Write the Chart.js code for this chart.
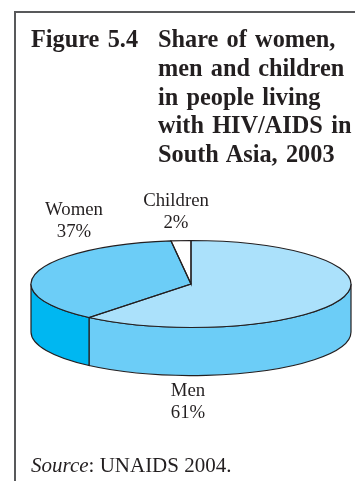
<!DOCTYPE html>
<html>
<head>
<meta charset="utf-8">
<style>
    body { margin: 0; background: #fff; }
    #page { position: relative; width: 355px; height: 481px; overflow: hidden; font-family: "Liberation Serif", serif; color: #231f20; }
    #frame { position: absolute; left: 14px; top: 11px; width: 345px; height: 480px; border-left: 2px solid #58595b; border-top: 2px solid #58595b; }
    #figNo, #title { position: absolute; top: 25px; font-weight: bold; font-size: 24.3px; line-height: 28.8px; word-spacing: 2.2px; white-space: nowrap; }
    #figNo { left: 31px; }
    #title { left: 158px; }
    #source { position: absolute; left: 31px; top: 453px; font-size: 21px; white-space: nowrap; }
    #myChart { position: absolute; left: 0; top: 0; }
</style>
</head>
<body>
<div id="page">
    <div id="frame"></div>
    <canvas id="myChart" width="355" height="481"></canvas>
    <div id="figNo">Figure 5.4</div>
    <div id="title">Share of women,<br>men and children<br>in people living<br>with HIV/AIDS in<br>South Asia, 2003</div>
    <div id="source"><i>Source</i>: UNAIDS 2004.</div>
</div>

<script src="https://cdn.jsdelivr.net/npm/chart.js@4"></script>
<script>
const categories = ['Men', 'Women', 'Children'];
const shares = [61, 37, 2];
const topColors = ['#abe1fb', '#6ccdf7', '#ffffff'];
const wallColors = ['#6ccdf7', '#00b7f1', '#ffffff'];

const squash = 43.5 / 160; // flattens the circle into the tilted disc
const depth = 48;
const lineColor = '#231f20';

// label centres, first line
const labelSpots = {
    Men: [188, 396],
    Women: [74, 215],
    Children: [176, 206]
};

function clip(angle, from, to) {
    return Math.min(Math.max(angle, from), to);
}

const pie3d = {
    id: 'pie3d',
    // side wall goes under the pie
    beforeDatasetsDraw(chart) {
        const c = chart.ctx;
        const arcs = chart.getDatasetMeta(0).data;

        arcs.forEach(function (arc, i) {
            const ry = arc.outerRadius * squash;
            // only the front half of the rim can be seen
            const a = clip(arc.startAngle, 0, Math.PI);
            const b = clip(arc.endAngle, 0, Math.PI);
            if (b <= a) return;

            c.beginPath();
            c.ellipse(arc.x, arc.y, arc.outerRadius, ry, 0, a, b);
            c.ellipse(arc.x, arc.y + depth, arc.outerRadius, ry, 0, b, a, true);
            c.closePath();
            c.fillStyle = wallColors[i];
            c.fill();
            c.strokeStyle = lineColor;
            c.lineWidth = 1.2;
            c.stroke();
        });

        c.save();
        c.translate(0, arcs[0].y);
        c.scale(1, squash);
        c.translate(0, -arcs[0].y);
    },
    afterDatasetsDraw(chart) {
        const c = chart.ctx;
        c.restore();

        // outlines are stroked here so the pen is not squashed too
        chart.getDatasetMeta(0).data.forEach(function (arc) {
            c.beginPath();
            c.moveTo(arc.x, arc.y);
            c.ellipse(arc.x, arc.y, arc.outerRadius, arc.outerRadius * squash, 0, arc.startAngle, arc.endAngle);
            c.closePath();
            c.strokeStyle = lineColor;
            c.lineWidth = 1.2;
            c.stroke();
        });

        c.fillStyle = lineColor;
        c.font = '18.8px "Liberation Serif", serif';
        c.textAlign = 'center';
        c.textBaseline = 'alphabetic';
        categories.forEach(function (name, i) {
            const spot = labelSpots[name];
            c.fillText(name, spot[0], spot[1]);
            c.fillText(shares[i] + '%', spot[0], spot[1] + 22);
        });
    }
};

new Chart(document.getElementById('myChart'), {
    type: 'pie',
    data: {
        labels: categories,
        datasets: [{
            data: shares,
            backgroundColor: topColors,
            borderWidth: 0
        }]
    },
    options: {
        responsive: false,
        animation: false,
        events: [],
        layout: { padding: { left: 31, right: 4, top: 124, bottom: 37 } },
        plugins: {
            legend: { display: false },
            tooltip: { enabled: false }
        }
    },
    plugins: [pie3d]
});
</script>
</body>
</html>
